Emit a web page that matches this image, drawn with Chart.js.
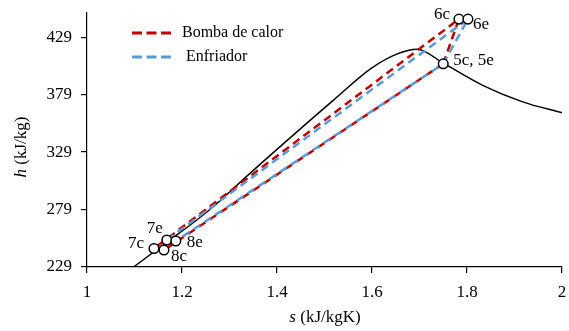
<!DOCTYPE html>
<html>
<head>
<meta charset="utf-8">
<script src="https://cdn.jsdelivr.net/npm/chart.js@4.4.0/dist/chart.umd.min.js"></script>
<style>
  html, body { margin: 0; padding: 0; background: #fff; }
  #wrap { position: relative; width: 569px; height: 331px; }
</style>
</head>
<body>
<div id="wrap"><canvas id="chart"></canvas></div>
<script>
// Saturation dome (s, h)
const domeS = [1.098, 1.162, 1.255, 1.346, 1.519, 1.599, 1.652, 1.695, 1.751, 1.832, 1.917, 2.0];
const domeH = [229, 248.6, 277.7, 311.6, 374.2, 402.0, 414.2, 418.5, 406.1, 387.3, 372.7, 363.2];

// Bomba de calor cycle: 5c -> 6c -> 7c -> 8c -> 5c
const heatS = [1.750, 1.783, 1.141, 1.162, 1.750];
const heatH = [405.8, 444.7, 245.1, 243.8, 405.8];

// Enfriador cycle: 5e -> 6e -> 7e -> 8e -> 5e
const coolS = [1.750, 1.802, 1.168, 1.187, 1.750];
const coolH = [405.8, 444.7, 252.5, 251.6, 405.8];

// Labelled state points
const markerNames = ['7c', '8c', '7e', '8e', '6c', '6e', '5c, 5e'];
const markerS = [1.141, 1.162, 1.168, 1.187, 1.783, 1.802, 1.750];
const markerH = [245.1, 243.8, 252.5, 251.6, 444.7, 444.7, 405.8];

const xTicks = [1, 1.2, 1.4, 1.6, 1.8, 2];
const yTicks = [229, 279, 329, 379, 429];

const seriesNames = ['Bomba de calor', 'Enfriador'];

const toXY = (xs, ys) => xs.map((x, i) => ({ x, y: ys[i] }));

const serif = "'Liberation Serif', 'Times New Roman', serif";
const red = '#C00000';
const blue = '#5B9BD5';

// label placement relative to each marker (px): dx, dy, align
const labelPlace = [
  [-10, -5, 'right'],
  [7, 7, 'left'],
  [-4, -11, 'right'],
  [11, 2, 'left'],
  [-9, -5, 'right'],
  [5, 5, 'left'],
  [10, -3, 'left'],
];

const overlay = {
  id: 'overlay',
  afterDraw(c) {
    const ctx = c.ctx;
    const xs = c.scales.x;
    const ys = c.scales.y;
    ctx.save();
    ctx.fillStyle = '#000';
    ctx.textBaseline = 'middle';

    // point labels
    ctx.font = `17px ${serif}`;
    markerNames.forEach((name, i) => {
      const px = xs.getPixelForValue(markerS[i]);
      const py = ys.getPixelForValue(markerH[i]);
      const [dx, dy, align] = labelPlace[i];
      ctx.textAlign = align;
      ctx.fillText(name, px + dx, py + dy);
    });

    // legend
    ctx.lineWidth = 3;
    ctx.setLineDash([10, 4.5]);
    [[red, 33, 182], [blue, 57, 186]].forEach(([col, y, tx], i) => {
      ctx.strokeStyle = col;
      ctx.beginPath();
      ctx.moveTo(132, y);
      ctx.lineTo(171, y);
      ctx.stroke();
      ctx.font = `16px ${serif}`;
      ctx.textAlign = 'left';
      ctx.fillText(seriesNames[i], tx, y);
    });
    ctx.setLineDash([]);

    // axis titles with italic variable
    const drawTitle = (v, rest, cx, cy, rot) => {
      ctx.save();
      ctx.translate(cx, cy);
      ctx.rotate(rot);
      ctx.font = `italic 17px ${serif}`;
      const w1 = ctx.measureText(v).width;
      ctx.font = `17px ${serif}`;
      const w2 = ctx.measureText(rest).width;
      const x0 = -(w1 + w2) / 2;
      ctx.textAlign = 'left';
      ctx.font = `italic 17px ${serif}`;
      ctx.fillText(v, x0, 0);
      ctx.font = `17px ${serif}`;
      ctx.fillText(rest, x0 + w1, 0);
      ctx.restore();
    };
    drawTitle('s', ' (kJ/kgK)', 325, 318, 0);
    drawTitle('h', ' (kJ/kg)', 22, 147, -Math.PI / 2);
    ctx.restore();
  }
};

const axisCommon = {
  border: { color: '#000', width: 1.2 },
  grid: { drawOnChartArea: false, drawTicks: true, tickLength: 6, color: '#000', lineWidth: 1.2 },
};

new Chart(document.getElementById('chart'), {
  type: 'scatter',
  data: {
    datasets: [
      {
        label: 'markers',
        data: toXY(markerS, markerH),
        showLine: false,
        pointRadius: 4.8,
        pointBorderWidth: 1.5,
        pointBackgroundColor: '#fff',
        pointBorderColor: '#000',
        order: 0,
      },
      {
        label: seriesNames[1],
        data: toXY(coolS, coolH),
        showLine: true,
        borderColor: blue,
        borderWidth: 2.5,
        borderDash: [8, 5],
        pointRadius: 0,
        order: 1,
      },
      {
        label: seriesNames[0],
        data: toXY(heatS, heatH),
        showLine: true,
        borderColor: red,
        borderWidth: 2.5,
        borderDash: [8, 5],
        pointRadius: 0,
        order: 2,
      },
      {
        label: 'dome',
        data: toXY(domeS, domeH),
        showLine: true,
        borderColor: '#000',
        borderWidth: 1.5,
        cubicInterpolationMode: 'monotone',
        pointRadius: 0,
        order: 3,
      },
    ],
  },
  options: {
    responsive: true,
    maintainAspectRatio: false,
    animation: false,
    layout: { padding: { left: 0, right: 7, top: 13, bottom: 0 } },
    scales: {
      x: {
        ...axisCommon,
        min: 1,
        max: 2,
        afterBuildTicks: (s) => { s.ticks = xTicks.map(v => ({ value: v })); },
        afterFit: (s) => { s.height = 64; s.paddingLeft = 0; s.paddingRight = 0; },
        ticks: {
          color: '#000',
          font: { family: serif, size: 17 },
          padding: 9,
          maxRotation: 0,
          callback: (v) => String(Math.round(v * 10) / 10),
        },
      },
      y: {
        ...axisCommon,
        min: 229,
        max: 450,
        afterBuildTicks: (s) => { s.ticks = yTicks.map(v => ({ value: v })); },
        afterFit: (s) => { s.width = 87; s.paddingTop = 0; s.paddingBottom = 0; },
        ticks: {
          color: '#000',
          font: { family: serif, size: 17 },
          padding: 9,
        },
      },
    },
    plugins: {
      legend: { display: false },
      tooltip: { enabled: false },
    },
  },
  plugins: [overlay],
});
</script>
</body>
</html>
